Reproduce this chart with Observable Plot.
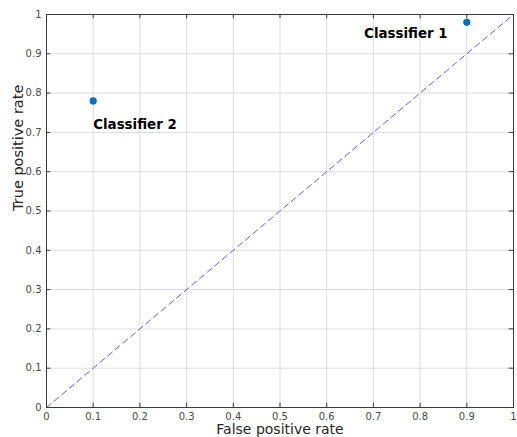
<!DOCTYPE html>
<html>
<head>
<meta charset="utf-8">
<script src="https://cdn.jsdelivr.net/npm/d3@7"></script>
<script src="https://cdn.jsdelivr.net/npm/@observablehq/plot@0.6"></script>
<style>
  html, body { margin: 0; padding: 0; background: #fff; overflow: hidden; }
  svg { font-family: "DejaVu Sans", sans-serif; display: block; }
</style>
</head>
<body>
<div id="chart"></div>
<script>
// Data
const classifierNames = ["Classifier 1", "Classifier 2"];
const fprValues = [0.9, 0.1];
const tprValues = [0.98, 0.78];
const labelX = [0.68, 0.1];
const labelY = [0.95, 0.72];
const diagX = [0, 1];
const diagY = [0, 1];
const tickValues = [0, 0.1, 0.2, 0.3, 0.4, 0.5, 0.6, 0.7, 0.8, 0.9, 1];
const tickLabels = ["0", "0.1", "0.2", "0.3", "0.4", "0.5", "0.6", "0.7", "0.8", "0.9", "1"];
const xTitle = "False positive rate";
const yTitle = "True positive rate";

const points = classifierNames.map((name, i) => ({name, x: fprValues[i], y: tprValues[i], lx: labelX[i], ly: labelY[i]}));
const diag = diagX.map((x, i) => ({x, y: diagY[i]}));
const fmt = d => tickLabels[tickValues.indexOf(d)] ?? String(d);

const axisColor = "#3a3a3a";
const tk = 0.011; // tick length in data units (~4px)

const chart = Plot.plot({
  width: 517,
  height: 437,
  marginLeft: 46,
  marginRight: 4,
  marginTop: 14,
  marginBottom: 30,
  x: {domain: [0, 1]},
  y: {domain: [0, 1]},
  style: {fontFamily: "DejaVu Sans, sans-serif", background: "#fff"},
  marks: [
    Plot.gridX(tickValues, {stroke: "#dcdcdc", strokeOpacity: 1}),
    Plot.gridY(tickValues, {stroke: "#dcdcdc", strokeOpacity: 1}),
    // inward tick marks
    Plot.ruleX(tickValues, {y1: 0, y2: tk, stroke: axisColor}),
    Plot.ruleX(tickValues, {y1: 1 - tk, y2: 1, stroke: axisColor}),
    Plot.ruleY(tickValues, {x1: 0, x2: tk * 0.84, stroke: axisColor}),
    Plot.ruleY(tickValues, {x1: 1 - tk * 0.84, x2: 1, stroke: axisColor}),
    Plot.axisX(tickValues, {tickSize: 0, tickPadding: 5, tickFormat: fmt, fontSize: 10, fill: "#4a4a4a", label: null}),
    Plot.axisY(tickValues, {tickSize: 0, tickPadding: 5, tickFormat: fmt, fontSize: 10, fill: "#4a4a4a", label: null}),
    Plot.line(diag, {x: "x", y: "y", stroke: "#3333ff", strokeWidth: 0.8, strokeDasharray: "6,4"}),
    Plot.frame({stroke: axisColor, strokeWidth: 1}),
    Plot.dot(points, {x: "x", y: "y", r: 3.6, fill: "#0072BD", stroke: "none"}),
    Plot.text(points, {x: "lx", y: "ly", text: "name", textAnchor: "start", fontWeight: "bold", fontSize: 13.4, fill: "#000"}),
    Plot.text([xTitle], {frameAnchor: "bottom", dy: 26.5, text: d => d, fontSize: 14, fill: "#262626", lineAnchor: "bottom"}),
    Plot.text([yTitle], {frameAnchor: "left", dx: -28, rotate: -90, text: d => d, fontSize: 14.5, fill: "#262626", lineAnchor: "middle"})
  ]
});
document.getElementById("chart").appendChild(chart);
</script>
</body>
</html>
